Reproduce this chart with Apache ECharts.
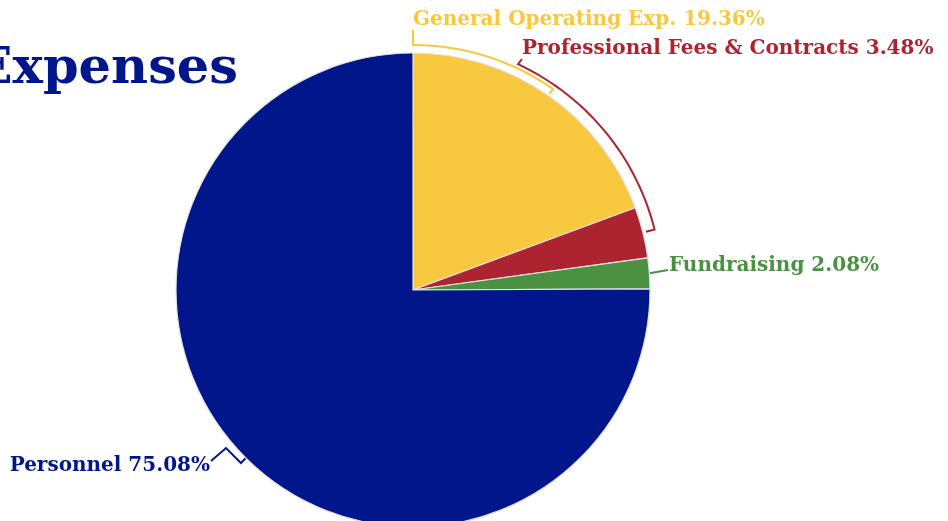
<!DOCTYPE html>
<html>
<head>
<meta charset="utf-8">
<script src="https://cdn.jsdelivr.net/npm/echarts@6/dist/echarts.min.js"></script>
<style>
html,body{margin:0;padding:0;background:#fff;}
#main{width:948px;height:521px;}
</style>
</head>
<body>
<div id="main"></div>
<script>
const titleText = 'Expenses';
const categories = ['General Operating Exp.', 'Professional Fees & Contracts', 'Fundraising', 'Personnel'];
const values = [19.36, 3.48, 2.08, 75.08];
const colors = ['#F8C83E', '#AC2430', '#4A9142', '#00168A'];

const FONT = '"DejaVu Serif", "Liberation Serif", serif';
const CX = 413, CY = 290, R = 237;
const total = values.reduce((a, b) => a + b, 0);
const labelAnchors = [[413, 20, 'left'], [522, 49, 'left'], [669, 266, 'left'], [210, 466, 'right']];

function pt(r, deg) { const a = deg * Math.PI / 180; return [CX + r * Math.sin(a), CY - r * Math.cos(a)]; }
function midAngle(i) { let s = 0; for (let k = 0; k < i; k++) s += values[k]; return (s + values[i] / 2) / total * 360; }
function arcPts(r, a0, a1) { const n = 30, out = []; for (let k = 0; k <= n; k++) out.push(pt(r, a0 + (a1 - a0) * k / n)); return out; }

function linePoints(i, x, y) {
  const m = midAngle(i);
  if (i === 0) {
    const r = R + 8;
    const a0 = Math.asin((x - CX) / r) * 180 / Math.PI;
    return [[x, y + 10]].concat(arcPts(r, a0, m)).concat([pt(R + 2, m)]);
  }
  if (i === 1) {
    const r = R + 12;
    const a0 = Math.asin((x - 4 - CX) / r) * 180 / Math.PI;
    return [[x, y + 10]].concat(arcPts(r, a0, m)).concat([pt(R + 3, m)]);
  }
  if (i === 2) {
    return [pt(R, m), [x - 1, y + 4]];
  }
  return [[x + 1, y - 5], [x + 16, y - 18], pt(R + 7, m), pt(R, m)];
}

const chart = echarts.init(document.getElementById('main'), null, {renderer: 'canvas'});
chart.setOption({
  backgroundColor: '#ffffff',
  animation: false,
  graphic: [{
    type: 'text',
    right: 710,
    top: 44,
    style: {
      text: titleText,
      font: 'bold 51px ' + FONT,
      fill: '#00168A'
    }
  }],
  series: [{
    type: 'pie',
    center: [CX, CY],
    radius: [0, R],
    startAngle: 90,
    clockwise: true,
    avoidLabelOverlap: false,
    data: categories.map((c, i) => ({
      name: c,
      value: values[i],
      itemStyle: {color: colors[i]},
      label: {color: colors[i]},
      labelLine: {lineStyle: {color: colors[i]}}
    })),
    itemStyle: {borderColor: '#e2e2e2', borderWidth: 1.2},
    label: {
      show: true,
      position: 'outside',
      fontFamily: FONT,
      fontWeight: 'bold',
      fontSize: 20,
      formatter: p => p.name + ' ' + values[p.dataIndex].toFixed(2) + '%'
    },
    labelLine: {show: true, length: 10, length2: 10, lineStyle: {width: 2}},
    labelLayout: function (params) {
      const i = params.dataIndex;
      const a = labelAnchors[i];
      return {
        x: a[0], y: a[1], align: a[2], verticalAlign: 'middle',
        labelLinePoints: linePoints(i, a[0], a[1])
      };
    },
    emphasis: {disabled: true}
  }]
});
</script>
</body>
</html>
